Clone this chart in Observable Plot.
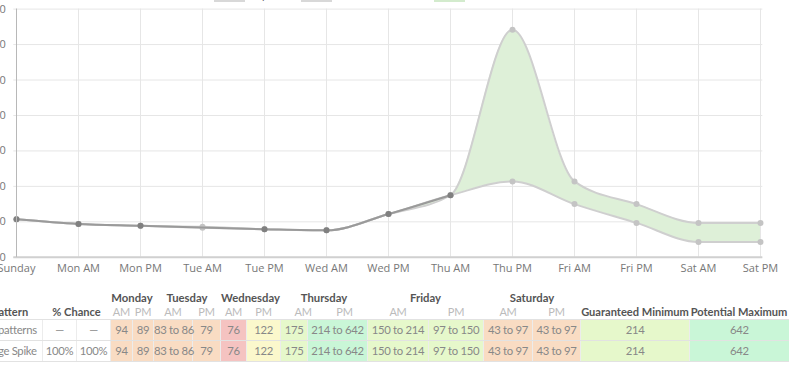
<!DOCTYPE html>
<html><head><meta charset="utf-8">
<script src="https://cdn.jsdelivr.net/npm/d3@7"></script>
<script src="https://cdn.jsdelivr.net/npm/@observablehq/plot@0.6"></script>
<style>
body{margin:0;background:#fff;font-family:"Open Sans",sans-serif;}
#wrap{position:relative;width:800px;height:373px;overflow:hidden;}
#legend{position:absolute;top:-8px;left:0;width:800px;height:10px;}
#legend .box{position:absolute;top:0;height:10px;width:31px;}
#legend .lab{position:absolute;top:-4px;font-size:12px;color:#666;line-height:12px;white-space:nowrap;}
#chart{position:absolute;top:0;left:0;}
table{position:absolute;left:-23px;top:290px;border-collapse:collapse;table-layout:fixed;font-family:Lato,sans-serif;font-size:11px;}
th,td{padding:0;text-align:center;white-space:nowrap;overflow:visible;}
thead tr.r1 th{height:15px;line-height:15px;color:#555;font-weight:bold;font-size:11.3px;}
thead tr.r2 th{height:14px;line-height:14px;color:#555;font-weight:bold;font-size:11.1px;}
thead tr.r2 th.ap{color:#bbb;font-weight:normal;font-size:11px;letter-spacing:-0.2px;}
thead tr.r2 th.shift{padding-left:14px;}
tbody td{height:20px;line-height:20px;color:#888;font-size:11.3px;letter-spacing:-0.3px;border-top:1px solid #e2e2e2;border-bottom:1px solid #e2e2e2;border-left:1px solid #ececec;}
</style></head>
<body><div id="wrap"><div id="legend"></div><div id="chart"></div><table id="tbl"></table></div>
<script>
// ---- data ----
const labels = ["Sunday","Mon AM","Mon PM","Tue AM","Tue PM","Wed AM","Wed PM","Thu AM","Thu PM","Fri AM","Fri PM","Sat AM","Sat PM"];
const inputPrices = [107,94,89,null,79,76,122,175,null,null,null,null,null];
const minPrices = [107,94,89,83,79,76,122,175,214,150,97,43,43];
const maxPrices = [107,94,89,86,79,76,122,175,642,214,150,97,97];
const yTicks = [0,100,200,300,400,500,600,700];
const legendLabels = ["Input Price","Guaranteed Min","Potential Max"];

const days = ["Monday","Tuesday","Wednesday","Thursday","Friday","Saturday"];
const halves = ["AM","PM"];
const patternNames = ["All patterns","Large Spike"];
const chanceA = ["—","100%"];
const chanceB = ["—","100%"];
const rangeAll = ["94","89","83 to 86","79","76","122","175","214 to 642","150 to 214","97 to 150","43 to 97","43 to 97"];
const rangeSpike = ["94","89","83 to 86","79","76","122","175","214 to 642","150 to 214","97 to 150","43 to 97","43 to 97"];
const guaranteedMin = ["214","214"];
const potentialMax = ["642","642"];
const headers = ["Pattern","% Chance","Guaranteed Minimum","Potential Maximum"];

// ---- styles ----
const peach="#f9dcc3", red="#f5c3c1", yellow="#fbf8cc", lgreen="#e6f8cb", mint="#c9f6d7";
const cellFill=[peach,peach,peach,peach,red,yellow,lgreen,mint,lgreen,lgreen,peach,peach];
const colW=[65,34,34,22,21,39,28,26,34,27,60,61,55,49,48,109,99];

// ---- chart ----
const rows = labels.map((l,i)=>({label:l,min:minPrices[i],max:maxPrices[i],input:inputPrices[i]}));
const inputRows = rows.filter(d=>d.input!=null);
const X0=13.3, X1=762.3;
const chart = Plot.plot({
  width:800,height:280,
  marginLeft:X0,marginRight:800-X1,marginTop:8.6,marginBottom:23.2,
  x:{type:"point",domain:labels,padding:0,label:null},
  y:{domain:[0,700],label:null},
  style:{fontFamily:"'Open Sans',sans-serif",fontSize:"11px",color:"#777",background:"transparent"},
  marks:[
    Plot.gridX(labels,{stroke:"#e6e6e6",strokeOpacity:1}),
    Plot.gridY(yTicks,{stroke:"#e6e6e6",strokeOpacity:1}),
    Plot.areaY(rows,{x:"label",y1:"min",y2:"max",curve:"monotone-x",fill:"#def0d8"}),
    Plot.line(rows,{x:"label",y:"min",curve:"monotone-x",stroke:"#cfcfcf",strokeWidth:2}),
    Plot.line(rows,{x:"label",y:"max",curve:"monotone-x",stroke:"#cfcfcf",strokeWidth:2}),
    Plot.dot(rows,{x:"label",y:"min",r:3,fill:"#c4c4c4"}),
    Plot.dot(rows,{x:"label",y:"max",r:3,fill:"#c4c4c4"}),
    Plot.line(inputRows,{x:"label",y:"input",curve:"monotone-x",stroke:"#9a9a9a",strokeWidth:2}),
    Plot.dot(inputRows,{x:"label",y:"input",r:3,fill:"#808080"}),
    Plot.ruleY([0],{stroke:"#d0d0d0",strokeWidth:2}),
    Plot.ruleX([labels[0]],{stroke:"#b8b8b8",strokeWidth:1}),
    Plot.axisX({tickSize:0,tickPadding:7,color:"#777"}),
    Plot.axisY(yTicks,{tickSize:0,tickPadding:8,color:"#777"})
  ]
});
document.getElementById("chart").appendChild(chart);

// ---- legend ----
const lg=document.getElementById("legend");
const boxX=[214,301,434], boxC=["#d8d8d8","#d8d8d8","#d3ebcd"];
legendLabels.forEach((t,i)=>{
  const b=document.createElement("div");b.className="box";b.style.left=boxX[i]+"px";b.style.background=boxC[i];lg.appendChild(b);
  const s=document.createElement("div");s.className="lab";s.style.left=(boxX[i]+37)+"px";s.textContent=t;lg.appendChild(s);
});

// ---- table ----
const tbl=document.getElementById("tbl");
const cg=document.createElement("colgroup");
colW.forEach(w=>{const c=document.createElement("col");c.style.width=w+"px";cg.appendChild(c);});
tbl.appendChild(cg);
tbl.style.width=colW.reduce((a,b)=>a+b,0)+"px";
const thead=document.createElement("thead");
let r1="<tr class='r1'><th></th><th colspan='2'></th>"+days.map(d=>`<th colspan='2'>${d}</th>`).join("")+"<th></th><th></th></tr>";
let r2=`<tr class='r2'><th>${headers[0]}</th><th colspan='2'>${headers[1]}</th>`+days.map((d,di)=>halves.map(h=>`<th class='ap${di===3?" shift":""}'>${h}</th>`).join("")).join("")+`<th>${headers[2]}</th><th>${headers[3]}</th></tr>`;
thead.innerHTML=r1+r2;tbl.appendChild(thead);
const tb=document.createElement("tbody");
[rangeAll,rangeSpike].forEach((rg,ri)=>{
  let h=`<tr><td>${patternNames[ri]}</td><td>${chanceA[ri]}</td><td>${chanceB[ri]}</td>`;
  rg.forEach((v,j)=>{h+=`<td style="background:${cellFill[j]}">${v}</td>`;});
  h+=`<td style="background:${lgreen}">${guaranteedMin[ri]}</td><td style="background:${mint}">${potentialMax[ri]}</td></tr>`;
  tb.insertAdjacentHTML("beforeend",h);
});
tbl.appendChild(tb);
</script></body></html>
